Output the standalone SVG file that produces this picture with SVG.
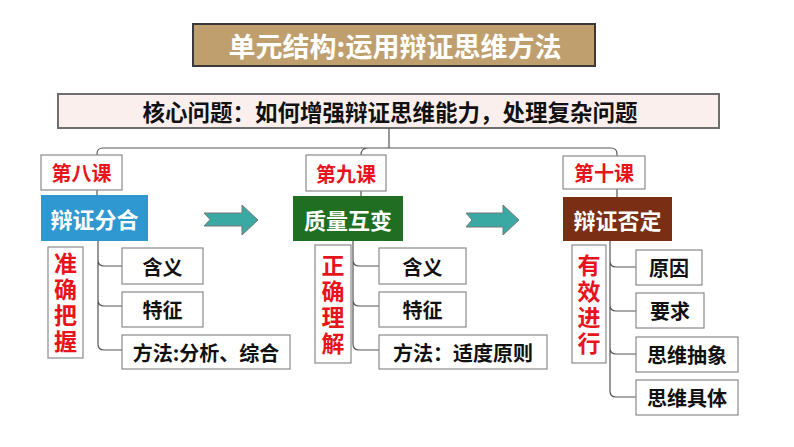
<svg xmlns="http://www.w3.org/2000/svg" width="794" height="447" viewBox="0 0 794 447">
<style>
text{font-family:"Noto Sans CJK SC","Noto Sans",sans-serif;font-weight:700;text-anchor:middle;dominant-baseline:central}
.sub{fill:#fff;stroke:#8a8a8a;stroke-width:1.2}
.subt{font-size:20px;fill:#111}
.les{fill:#fff;stroke:#8a8a8a;stroke-width:1.2}
.lest{font-size:20px;fill:#e8141b}
.vt{font-size:23px;fill:#e8141b;writing-mode:vertical-rl;letter-spacing:3px;dominant-baseline:auto}
.head{font-size:22px;fill:#fff}
.conn{fill:none;stroke:#555;stroke-width:1.2}
.arrow{fill:#3aa9a4;stroke:#777;stroke-width:1}
</style>
<rect width="794" height="447" fill="#fff"/>
<g id="title">
<rect x="193" y="24" width="402" height="42" fill="#bf9f6e" stroke="#3a3a3a" stroke-width="2"/>
<text x="395" y="45" font-size="27" fill="#fff">单元结构:运用辩证思维方法</text>
</g>
<g id="core">
<rect x="58" y="94" width="661" height="34" fill="#fbefee" stroke="#6e6e6e" stroke-width="2"/>
<text x="390" y="111" font-size="22.5" fill="#111">核心问题：如何增强辩证思维能力，处理复杂问题</text>
</g>
<g id="connectors">
<path class="conn" d="M389,128 V148 M97,156 V154 Q97,148 103,148 H611 Q617,148 617,154 V156 M361,155 Q361,148 368,148"/>
<path class="conn" d="M97,190 V195 M361,191 V196 M617,189 V197"/>
<path class="conn" d="M98,241 V260 Q98,266 104,266 H122 M98,260 V300 Q98,306 104,306 H122 M98,300 V344 Q98,350 104,350 H122"/>
<path class="conn" d="M353,241 V260 Q353,266 359,266 H379 M353,260 V300 Q353,306 359,306 H379 M353,300 V344 Q353,350 359,350 H379"/>
<path class="conn" d="M610,241 V261 Q610,267 616,267 H636 M610,261 V305 Q610,311 616,311 H636 M610,305 V348 Q610,354 616,354 H636 M610,348 V391 Q610,397 616,397 H636"/>
</g>
<g id="arrow1">
<polygon class="arrow" points="204,213 242,213 242,205 258,220 242,235 242,226 204,226 210,219.5"/>
</g>
<g id="arrow2">
<polygon class="arrow" points="466,213 503,213 503,205 519,220 503,235 503,227 466,227 472,220"/>
</g>
<g id="lesson8">
<rect class="les" x="41" y="155" width="81" height="35"/>
<text class="lest" x="81.5" y="172.5">第八课</text>
</g>
<g id="lesson9">
<rect class="les" x="306" y="155" width="80" height="36"/>
<text class="lest" x="346" y="173">第九课</text>
</g>
<g id="lesson10">
<rect class="les" x="563" y="156" width="82" height="33"/>
<text class="lest" x="604" y="172.5">第十课</text>
</g>
<g id="head8">
<rect x="41" y="195" width="107" height="46" fill="#2f98d1"/>
<text class="head" x="94.5" y="218">辩证分合</text>
</g>
<g id="head9">
<rect x="293" y="196" width="110" height="45" fill="#1f6e22"/>
<text class="head" x="348" y="218.5">质量互变</text>
</g>
<g id="head10">
<rect x="563" y="197" width="109" height="44" fill="#7a2e14"/>
<text class="head" x="617.5" y="219">辩证否定</text>
</g>
<g id="v8">
<rect class="les" x="48" y="247" width="35" height="111"/>
<text class="vt" x="65.5" y="304">准确把握</text>
</g>
<g id="v9">
<rect class="les" x="315" y="245" width="36" height="118"/>
<text class="vt" x="333" y="306">正确理解</text>
</g>
<g id="v10">
<rect class="les" x="572" y="245" width="34" height="118"/>
<text class="vt" x="589" y="306">有效进行</text>
</g>
<g id="s8a"><rect class="sub" x="122" y="248" width="81" height="36"/><text class="subt" x="162.5" y="266">含义</text></g>
<g id="s8b"><rect class="sub" x="122" y="292" width="81" height="35"/><text class="subt" x="162.5" y="309.5">特征</text></g>
<g id="s8c"><rect class="sub" x="122" y="335" width="168" height="34"/><text class="subt" x="206" y="352">方法:分析、综合</text></g>
<g id="s9a"><rect class="sub" x="379" y="248" width="87" height="36"/><text class="subt" x="422.5" y="266">含义</text></g>
<g id="s9b"><rect class="sub" x="379" y="292" width="87" height="35"/><text class="subt" x="422.5" y="309.5">特征</text></g>
<g id="s9c"><rect class="sub" x="379" y="335" width="168" height="34"/><text class="subt" x="463" y="352">方法：适度原则</text></g>
<g id="s10a"><rect class="sub" x="636" y="250" width="66" height="35"/><text class="subt" x="669" y="267.5">原因</text></g>
<g id="s10b"><rect class="sub" x="636" y="293" width="68" height="35"/><text class="subt" x="670" y="310.5">要求</text></g>
<g id="s10c"><rect class="sub" x="636" y="337" width="102" height="35"/><text class="subt" x="687" y="354.5">思维抽象</text></g>
<g id="s10d"><rect class="sub" x="636" y="380" width="102" height="35"/><text class="subt" x="687" y="397.5">思维具体</text></g>
</svg>
